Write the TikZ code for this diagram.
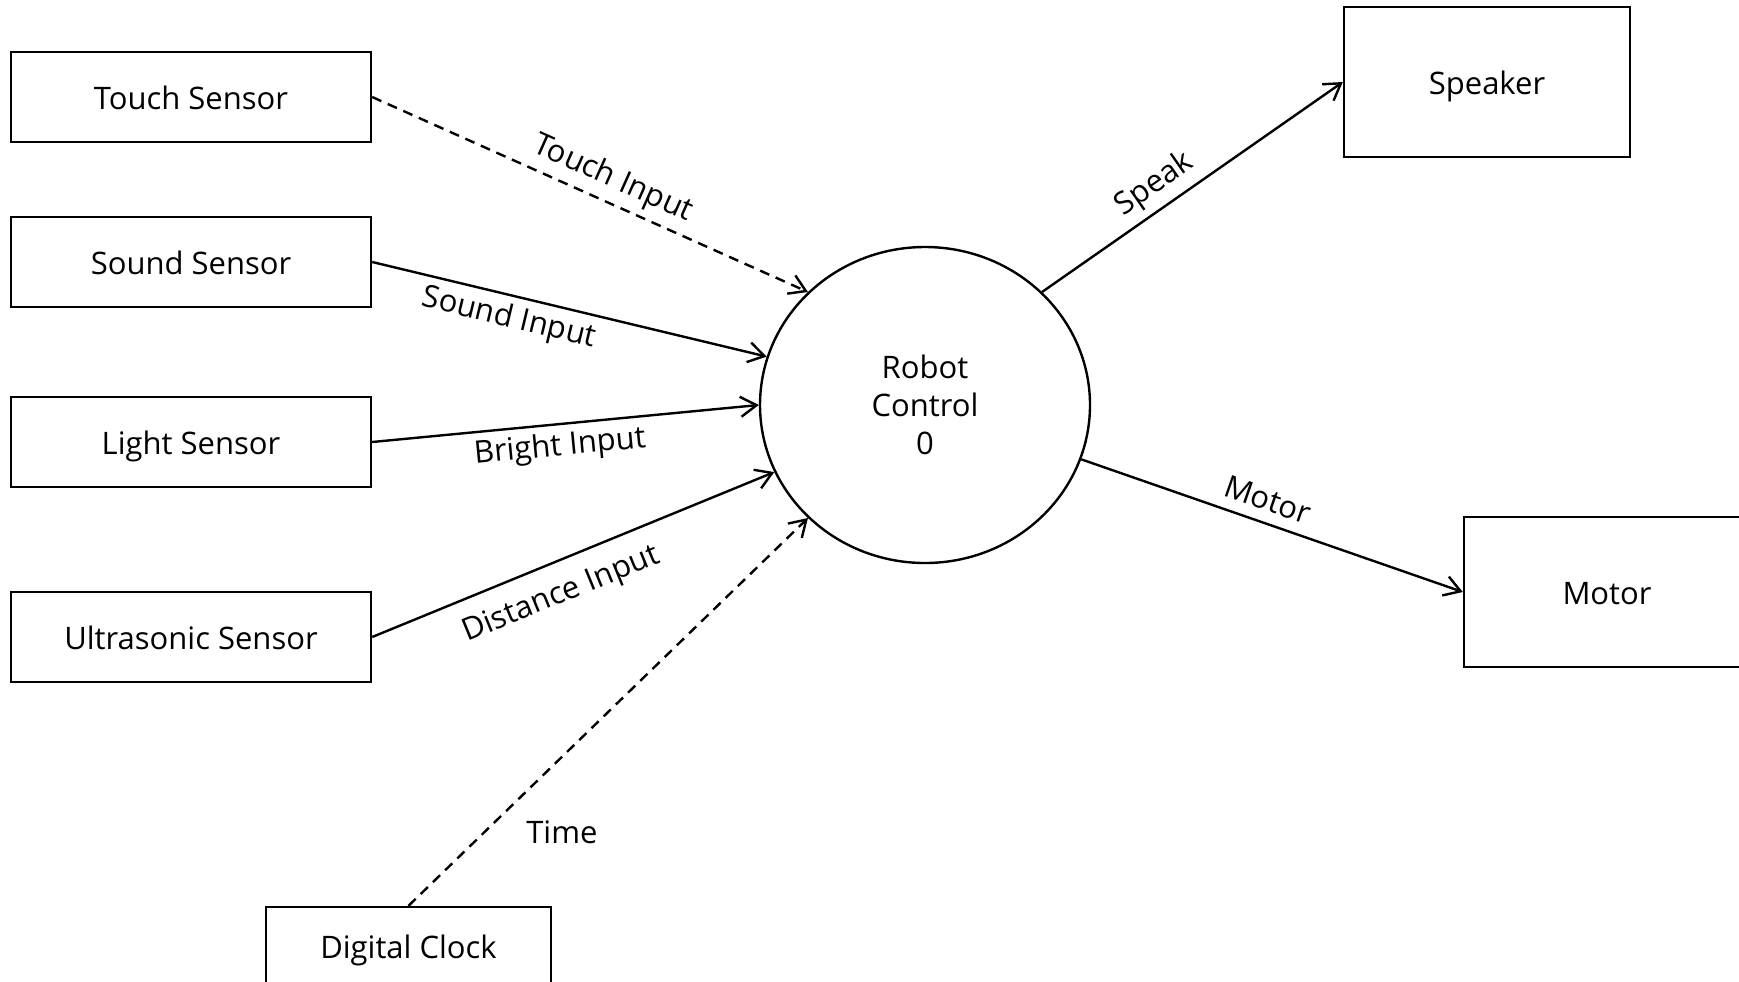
\documentclass[tikz,border=0pt]{standalone}
\usepackage{fontspec}
\setmainfont{Open Sans}
\usetikzlibrary{shapes,arrows.meta,positioning}

\begin{document}
\begin{tikzpicture}[x=0.5pt, y=-0.5pt, line width=1.2pt, font=\fontsize{15.5}{19}\selectfont,
    sensorbox/.style={draw, rectangle, minimum width=180pt, minimum height=45pt, inner sep=0pt, text height=12pt, text depth=0pt},
    outbox/.style={sensorbox, minimum width=143pt, minimum height=75pt},
    flow/.style={-{Straight Barb[length=8pt, width=10pt]}},
    dashflow/.style={flow, dash pattern=on 5pt off 3.5pt}]
    \useasboundingbox (0,0) rectangle (1739,981);
    \clip (0,0) rectangle (1739,981);
    % external entities on the left
    \node [sensorbox] (touch) at (191,97) {Touch Sensor};
    \node [sensorbox] (sound) at (191,262) {Sound Sensor};
    \node [sensorbox] (light) at (191,442) {Light Sensor};
    \node [sensorbox] (ultra) at (191,637) {Ultrasonic Sensor};
    \node [sensorbox, minimum width=142.5pt, minimum height=39pt] (clock) at (408.5,946) {Digital Clock};
    % the process
    \node [draw, ellipse, minimum width=165pt, minimum height=158pt, inner sep=0pt, align=center] (ctrl) at (925,405) {Robot\\Control\\0};
    % outputs
    \node [outbox] (speaker) at (1487,82) {Speaker};
    \node [outbox] (motor) at (1607,592) {Motor};
    % data flows
    \draw [dashflow] (touch.east) -- node [sloped, above, pos=0.53] {Touch Input} (ctrl.136);
    \draw [flow] (sound.east) -- node [sloped, below, pos=0.36] {Sound Input} (ctrl.163);
    \draw [flow] (light.east) -- node [sloped, below, pos=0.48] {Bright Input} (ctrl.west);
    \draw [flow] (ultra.east) -- node [sloped, below=5pt, pos=0.44] {Distance Input} (ctrl.204);
    \draw [dashflow] (clock.north) -- node [pos=0.19, right=17pt] {Time} (ctrl.224);
    \draw [flow] (ctrl.44) -- node [sloped, above, pos=0.42] {Speak} (speaker.west);
    \draw [flow] (ctrl) -- node [sloped, above=2pt, pos=0.47] {Motor} (motor.west);
\end{tikzpicture}
\end{document}
